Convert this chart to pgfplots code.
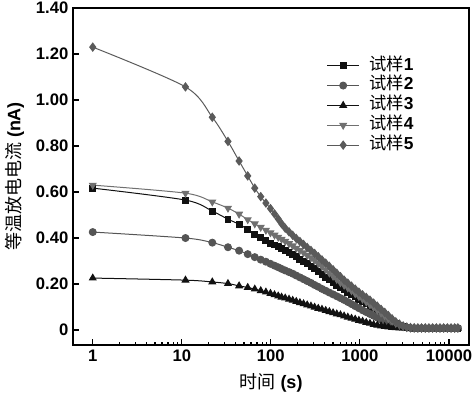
\documentclass[border=0pt]{standalone}
\usepackage{fontspec}
\setmainfont{Liberation Sans}
\newfontfamily\cjk{Noto Sans CJK SC}
\usepackage{pgfplots}
\pgfplotsset{compat=1.18}
\usepackage{pgfplotstable}

\definecolor{cA}{HTML}{111111}
\definecolor{cB}{HTML}{555555}
\definecolor{cC}{HTML}{111111}
\definecolor{cD}{HTML}{707070}
\definecolor{cE}{HTML}{5A5A5A}

\pgfplotstableread{
t s1 s2 s3 s4 s5
1 0.617 0.426 0.226 0.630 1.230
11 0.565 0.400 0.217 0.595 1.057
22 0.517 0.380 0.209 0.557 0.925
33 0.482 0.360 0.202 0.530 0.820
44 0.460 0.345 0.192 0.504 0.735
55 0.437 0.330 0.185 0.480 0.670
66 0.417 0.317 0.178 0.462 0.617
77 0.401 0.306 0.171 0.447 0.580
88 0.388 0.297 0.165 0.434 0.552
99 0.378 0.288 0.159 0.423 0.528
110 0.370 0.280 0.153 0.413 0.505
121 0.362 0.273 0.148 0.404 0.483
132 0.354 0.266 0.143 0.395 0.462
145 0.345 0.259 0.139 0.386 0.443
160 0.336 0.252 0.134 0.376 0.427
176 0.327 0.245 0.129 0.366 0.412
193 0.318 0.237 0.124 0.356 0.398
212 0.308 0.229 0.119 0.346 0.385
233 0.298 0.221 0.114 0.336 0.372
256 0.288 0.213 0.109 0.325 0.359
282 0.277 0.205 0.104 0.314 0.346
310 0.266 0.196 0.099 0.302 0.333
341 0.254 0.188 0.094 0.289 0.319
375 0.242 0.179 0.090 0.276 0.305
413 0.230 0.171 0.085 0.262 0.291
454 0.218 0.163 0.080 0.248 0.277
500 0.206 0.155 0.075 0.234 0.262
550 0.195 0.147 0.070 0.220 0.247
605 0.184 0.139 0.066 0.206 0.232
665 0.174 0.131 0.061 0.195 0.217
732 0.164 0.122 0.056 0.183 0.204
805 0.154 0.113 0.051 0.171 0.191
886 0.144 0.104 0.047 0.158 0.178
974 0.134 0.095 0.042 0.146 0.165
1072 0.124 0.086 0.038 0.134 0.153
1179 0.114 0.078 0.033 0.122 0.142
1297 0.104 0.070 0.029 0.110 0.130
1427 0.093 0.062 0.024 0.098 0.117
1570 0.082 0.054 0.021 0.086 0.104
1727 0.071 0.046 0.018 0.074 0.090
1899 0.060 0.039 0.015 0.062 0.077
2089 0.049 0.032 0.013 0.050 0.063
2298 0.038 0.026 0.011 0.039 0.049
2528 0.029 0.021 0.010 0.029 0.036
2781 0.021 0.016 0.009 0.021 0.026
3059 0.015 0.013 0.009 0.015 0.018
3365 0.011 0.011 0.008 0.011 0.013
3701 0.009 0.009 0.008 0.009 0.011
4071 0.008 0.008 0.008 0.008 0.010
4478 0.008 0.008 0.008 0.008 0.009
4926 0.008 0.008 0.008 0.008 0.009
5419 0.008 0.008 0.008 0.008 0.009
5961 0.008 0.008 0.008 0.008 0.009
6557 0.008 0.008 0.008 0.008 0.009
7213 0.008 0.008 0.008 0.008 0.009
7934 0.008 0.008 0.008 0.008 0.009
8727 0.008 0.008 0.008 0.008 0.009
9600 0.008 0.008 0.008 0.008 0.009
10560 0.008 0.008 0.008 0.008 0.009
11616 0.008 0.008 0.008 0.008 0.009
12600 0.008 0.008 0.008 0.008 0.009
}\data

\begin{document}
\begin{tikzpicture}
\begin{axis}[
  name=ax, scale only axis, width=297pt, height=252.75pt,
  xmode=log, xmin=0.6, xmax=16800, ymin=-0.065, ymax=1.40,
  xtick={1,10,100,1000,10000}, xticklabels={1,10,100,1000,10000},
  ytick={0,0.2,0.4,0.6,0.8,1.0,1.2,1.4},
  yticklabels={0,0.20,0.40,0.60,0.80,1.00,1.20,1.40},
  xtick pos=bottom, ytick pos=left, tick align=inside,
  major tick length=4.5pt, minor tick length=2.5pt,
  axis line style={line width=1.3pt},
  every tick/.style={black, line width=0.9pt},
  /pgf/number format/assume math mode=true,
  ticklabel style={font=\fontsize{12.5}{14}\selectfont\bfseries},
  xlabel={{\cjk 时间} \textbf{(s)}},
  ylabel={{\cjk 等温放电电流} \textbf{(nA)}},
  label style={font=\fontsize{13.5}{15}\selectfont},
  xlabel style={yshift=-2pt},
  ylabel style={yshift=2pt},
  legend style={at={(0.63,0.867)}, anchor=north west, draw=none, fill=none,
    font=\fontsize{13}{14}\selectfont, row sep=0pt,
    nodes={text height=9.5pt, text depth=3pt, inner sep=1.2pt},
    /tikz/every odd column/.append style={column sep=6pt}},
  legend cell align=left,
  legend image code/.code={\draw[mark repeat=2,mark phase=2] plot coordinates {(0cm,0cm) (0.42cm,0cm) (0.84cm,0cm)};},
]
\addplot[cA, line width=0.75pt, smooth, mark=square*, mark size=2.2pt, mark options={solid, fill=cA}] table[x=t,y=s1] {\data};
\addlegendentry{{\cjk 试样}\textbf{1}}
\addplot[cB, line width=0.75pt, smooth, mark=*, mark size=2.6pt, mark options={solid, fill=cB}] table[x=t,y=s2] {\data};
\addlegendentry{{\cjk 试样}\textbf{2}}
\addplot[cC, line width=0.75pt, smooth, mark=triangle*, mark size=2.8pt, mark options={solid, fill=cC}] table[x=t,y=s3] {\data};
\addlegendentry{{\cjk 试样}\textbf{3}}
\addplot[cD, line width=0.75pt, smooth, mark=triangle*, mark size=2.8pt, mark options={solid, fill=cD, rotate=180}] table[x=t,y=s4] {\data};
\addlegendentry{{\cjk 试样}\textbf{4}}
\addplot[cE, line width=0.75pt, smooth, mark=diamond*, mark size=3pt, mark options={solid, fill=cE}] table[x=t,y=s5] {\data};
\addlegendentry{{\cjk 试样}\textbf{5}}
\end{axis}
\pgfresetboundingbox
\path[use as bounding box] ([shift={(-54.75pt,-39pt)}]ax.south west) rectangle ([shift={(3.75pt,6pt)}]ax.north east);
\end{tikzpicture}
\end{document}
